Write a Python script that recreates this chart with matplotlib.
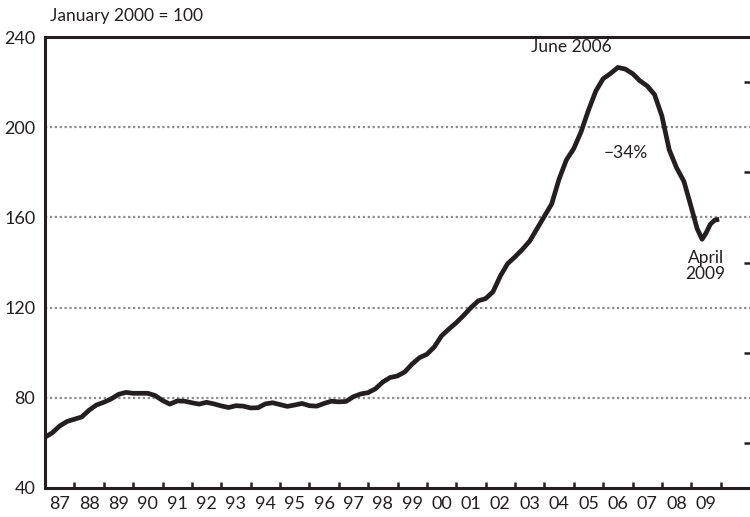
import matplotlib
matplotlib.use("Agg")
import matplotlib.pyplot as plt
import numpy as np

plt.rcParams['font.family'] = ['Lato', 'DejaVu Sans']

# ===== DATA (decimal years) =====
dates = [
    1987.0, 1987.25, 1987.5, 1987.75, 1988.0, 1988.25, 1988.5, 1988.75,
    1989.0, 1989.25, 1989.5, 1989.75, 1990.0, 1990.25, 1990.5, 1990.75,
    1991.0, 1991.25, 1991.5, 1991.75, 1992.0, 1992.25, 1992.5, 1992.75,
    1993.0, 1993.25, 1993.5, 1993.75, 1994.0, 1994.25, 1994.5, 1994.75,
    1995.0, 1995.25, 1995.5, 1995.75, 1996.0, 1996.25, 1996.5, 1996.75,
    1997.0, 1997.25, 1997.5, 1997.75, 1998.0, 1998.25, 1998.5, 1998.75,
    1999.0, 1999.25, 1999.5, 1999.75, 2000.0, 2000.25, 2000.5, 2000.75,
    2001.0, 2001.25, 2001.5, 2001.75, 2002.0, 2002.25, 2002.5, 2002.75,
    2003.0, 2003.25, 2003.5, 2003.75, 2004.0, 2004.25, 2004.5, 2004.75,
    2005.0, 2005.25, 2005.5, 2005.75, 2006.0, 2006.25, 2006.5, 2006.75,
    2007.0, 2007.25, 2007.5, 2007.75, 2008.0, 2008.25, 2008.5, 2008.75,
    2009.0, 2009.2, 2009.37, 2009.5, 2009.65, 2009.8, 2009.95,
]
index = [
    62.5, 64.5, 67.5, 69.5, 70.5, 71.5, 74.5, 76.8,
    78.0, 79.5, 81.5, 82.4, 82.0, 82.0, 82.0, 81.0,
    78.8, 77.2, 78.6, 78.5, 77.8, 77.2, 78.0, 77.3,
    76.4, 75.7, 76.5, 76.3, 75.5, 75.6, 77.3, 77.8,
    77.0, 76.2, 76.8, 77.5, 76.5, 76.3, 77.5, 78.5,
    78.2, 78.4, 80.5, 81.7, 82.3, 84.0, 87.0, 89.0,
    89.7, 91.5, 95.0, 97.8, 99.3, 102.5, 107.5, 110.5,
    113.3, 116.5, 120.0, 123.0, 124.0, 127.0, 134.0, 139.5,
    142.5, 145.8, 149.5, 155.0, 160.5, 166.0, 177.0, 185.5,
    190.5, 198.0, 207.5, 216.0, 221.5, 223.8, 226.5, 225.8,
    223.8, 220.6, 218.3, 214.5, 205.0, 190.0, 182.0, 176.0,
    164.5, 155.0, 150.3, 153.0, 157.0, 158.8, 159.2,
]
year_labels = ["87", "88", "89", "90", "91", "92", "93", "94", "95", "96",
               "97", "98", "99", "00", "01", "02", "03", "04", "05", "06",
               "07", "08", "09"]
y_labels = [40, 80, 120, 160, 200, 240]

ink = "#231f20"

# ===== FIGURE =====
fig = plt.figure(figsize=(7.5, 5.17), dpi=100)
ax = fig.add_axes([0.06, 0.0561, 0.94, 0.8723])

ax.plot(dates, index, color=ink, lw=3.4, solid_joinstyle='round',
        solid_capstyle='butt', zorder=3)

ax.set_xlim(1987, 2011)
ax.set_ylim(40, 240)

# grid lines
for v in [80, 120, 160, 200]:
    ax.axhline(v, color="#8c8c8c", lw=1.6, ls=(0, (1.0, 1.2)), zorder=1)

# spines
for s in ["left", "top", "bottom"]:
    ax.spines[s].set_linewidth(2.2)
    ax.spines[s].set_color(ink)
ax.spines["right"].set_visible(False)

# ===== Y AXIS =====
ax.set_yticks(y_labels)
ax.set_yticklabels([str(v) for v in y_labels])
ax.set_yticks(np.arange(60, 240, 20), minor=True)
ax.tick_params(axis="y", which="major", left=False, length=0, pad=7,
               labelsize=13, labelcolor=ink)
ax.tick_params(axis="y", which="minor", left=False, right=True,
               direction="in", length=4, width=1.8, color=ink)

# ===== X AXIS =====
ax.set_xticks(np.arange(1988, 2011))
ax.set_xticklabels([])
ax.set_xticks(np.arange(1987.5, 2010, 1.0), minor=True)
ax.set_xticklabels(year_labels, minor=True)
ax.tick_params(axis="x", which="major", direction="in", length=4.5,
               width=1.8, color=ink)
ax.tick_params(axis="x", which="minor", length=0, pad=6, labelsize=13,
               labelcolor=ink)

# ===== TEXT =====
fig.text(0.066, 0.97, "January 2000 = 100", fontsize=12.5, color=ink,
         ha="left", va="center")
ax.text(2004.9, 235.5, "June 2006", fontsize=12.5, color=ink,
        ha="center", va="center")
ax.text(2006.77, 188.6, "\u221234%", fontsize=12.5, color=ink,
        ha="center", va="center")
ax.text(2009.49, 138.4, "April\n2009", fontsize=12.5, color=ink,
        ha="center", va="center", linespacing=1.05)

plt.savefig("out.png", dpi=100)
